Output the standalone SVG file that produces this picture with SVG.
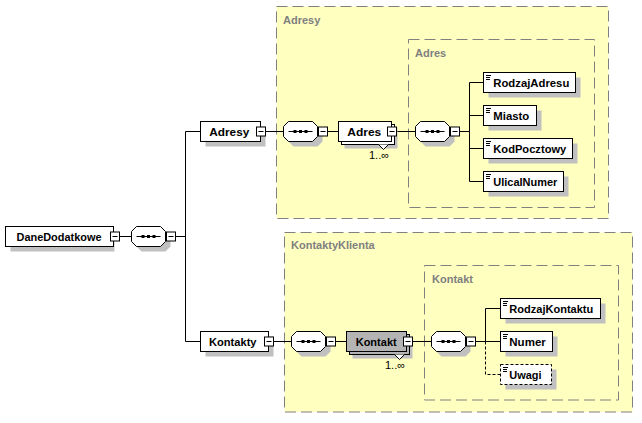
<svg xmlns="http://www.w3.org/2000/svg" width="642" height="423" viewBox="0 0 642 423">
<style>
.grp{fill:#ffffc0;stroke:#808080;stroke-width:1;stroke-dasharray:11,5}
.grpi{fill:none;stroke:#808080;stroke-width:1;stroke-dasharray:11,5}
.glbl{font-family:"Liberation Sans",Arial,sans-serif;font-weight:bold;font-size:11px;fill:#808080}
.sh{fill:#c0c0c0;stroke:none}
.box{fill:#fff;stroke:#000;stroke-width:1}
.gbox{fill:#b4b4b4;stroke:#000;stroke-width:1}
.obox{fill:#fff;stroke:#000;stroke-width:1;stroke-dasharray:3,2}
.t{font-family:"Liberation Sans",Arial,sans-serif;font-weight:bold;font-size:11px;fill:#000}
.occ{font-family:"Liberation Sans","DejaVu Sans",Arial,sans-serif;font-size:11px;fill:#000}
.ln{fill:none;stroke:#000;stroke-width:1}
.dln{fill:none;stroke:#000;stroke-width:1;stroke-dasharray:3,2}
.mn{fill:#fff;stroke:#000;stroke-width:1}
.ic{stroke:#000;stroke-width:1}
</style>
<defs>
<g id="minus"><rect class="mn" x="0" y="0" width="9" height="9"/><line class="ln" x1="2" y1="4.5" x2="7" y2="4.5"/></g>
<g id="seq">
<path class="sh" d="M10,5 H34 L39,10 V20 L34,25 H10 L5,20 V10 Z"/>
<path class="box" d="M5,0 H29 L34,5 V15 L29,20 H5 L0,15 V5 Z"/>
<line class="ln" x1="5" y1="10" x2="29" y2="10"/>
<rect x="10" y="8.5" width="3" height="3" fill="#000"/>
<rect x="15.5" y="8.5" width="3" height="3" fill="#000"/>
<rect x="21" y="8.5" width="3" height="3" fill="#000"/>
<use href="#minus" x="35" y="5.5"/>
</g>
<g id="icon"><line class="ic" x1="2" y1="2.5" x2="7" y2="2.5"/><line class="ic" x1="2" y1="4.5" x2="6" y2="4.5"/><line class="ic" x1="2" y1="6.5" x2="6" y2="6.5"/></g>
</defs>

<g id="group-Adresy">
<rect class="grp" x="276.5" y="6.5" width="332" height="212"/>
<text class="glbl" x="283" y="24">Adresy</text>
</g>
<g id="group-Adres">
<rect class="grpi" x="408.5" y="39.5" width="186" height="168"/>
<text class="glbl" x="415" y="57">Adres</text>
</g>
<g id="group-KontaktyKlienta">
<rect class="grp" x="284.5" y="232.5" width="348" height="179.5"/>
<text class="glbl" x="291" y="249">KontaktyKlienta</text>
</g>
<g id="group-Kontakt">
<rect class="grpi" x="424.5" y="265.5" width="194" height="134.5"/>
<text class="glbl" x="432" y="283">Kontakt</text>
</g>

<g id="connectors">
<line class="ln" x1="119.5" y1="236.5" x2="131.5" y2="236.5"/>
<line class="ln" x1="175.5" y1="236.5" x2="185.5" y2="236.5"/>
<polyline class="ln" points="200.5,131.5 185.5,131.5 185.5,341.5 200.5,341.5"/>
<line class="ln" x1="265.5" y1="131.5" x2="283.5" y2="131.5"/>
<line class="ln" x1="327.5" y1="131.5" x2="338.5" y2="131.5"/>
<line class="ln" x1="396.5" y1="131.5" x2="415.5" y2="131.5"/>
<line class="ln" x1="459.5" y1="131.5" x2="469.5" y2="131.5"/>
<polyline class="ln" points="483.5,82.5 469.5,82.5 469.5,181.5 483.5,181.5"/>
<line class="ln" x1="469.5" y1="115.5" x2="483.5" y2="115.5"/>
<line class="ln" x1="469.5" y1="148.5" x2="483.5" y2="148.5"/>
<line class="ln" x1="273.5" y1="341.5" x2="291.5" y2="341.5"/>
<line class="ln" x1="335.5" y1="341.5" x2="346.5" y2="341.5"/>
<line class="ln" x1="412.5" y1="341.5" x2="431.5" y2="341.5"/>
<line class="ln" x1="475.5" y1="341.5" x2="485.5" y2="341.5"/>
<polyline class="ln" points="500.5,308.5 485.5,308.5 485.5,341.5 500.5,341.5"/>
<polyline class="dln" points="485.5,341.5 485.5,374.5 500.5,374.5"/>
</g>

<g id="DaneDodatkowe">
<rect class="sh" x="10.5" y="231.5" width="104" height="20"/>
<rect class="box" x="5.5" y="226.5" width="108" height="20"/>
<text class="t" x="16.5" y="240.5" textLength="85" lengthAdjust="spacingAndGlyphs">DaneDodatkowe</text>
<use href="#minus" x="110.5" y="232"/>
</g>
<g id="seq1"><use href="#seq" x="131.5" y="226.5"/></g>

<g id="Adresy">
<rect class="sh" x="205.5" y="126.5" width="60" height="20"/>
<rect class="box" x="200.5" y="121.5" width="60" height="20"/>
<text class="t" x="209.3" y="135.5" textLength="40" lengthAdjust="spacingAndGlyphs">Adresy</text>
<use href="#minus" x="256.5" y="127"/>
</g>
<g id="seq2"><use href="#seq" x="283.5" y="121.5"/></g>

<g id="Adres">
<rect class="sh" x="344.5" y="127.5" width="53" height="21"/>
<rect class="box" x="341.5" y="124.5" width="53" height="20"/>
<rect class="box" x="338.5" y="121.5" width="53" height="20"/>
<text class="t" x="347.3" y="135.5" textLength="34" lengthAdjust="spacingAndGlyphs">Adres</text>
<use href="#minus" x="387.5" y="127"/>
<polyline class="box" points="378.5,144.5 383.5,149.5 388.5,144.5"/>
<text class="occ" x="369" y="158.5">1..∞</text>
</g>
<g id="seq3"><use href="#seq" x="415.5" y="121.5"/></g>

<g id="RodzajAdresu">
<rect class="sh" x="488.5" y="77.5" width="92" height="20"/>
<rect class="box" x="483.5" y="72.5" width="92" height="20"/>
<use href="#icon" x="484" y="73"/>
<text class="t" x="493.3" y="86.5" textLength="76" lengthAdjust="spacingAndGlyphs">RodzajAdresu</text>
</g>
<g id="Miasto">
<rect class="sh" x="488.5" y="110.5" width="53" height="20"/>
<rect class="box" x="483.5" y="105.5" width="53" height="20"/>
<use href="#icon" x="484" y="106"/>
<text class="t" x="493.3" y="119.5" textLength="36" lengthAdjust="spacingAndGlyphs">Miasto</text>
</g>
<g id="KodPocztowy">
<rect class="sh" x="488.5" y="143.5" width="89" height="20"/>
<rect class="box" x="483.5" y="138.5" width="89" height="20"/>
<use href="#icon" x="484" y="139"/>
<text class="t" x="493.3" y="152.5" textLength="73" lengthAdjust="spacingAndGlyphs">KodPocztowy</text>
</g>
<g id="UlicaINumer">
<rect class="sh" x="488.5" y="176.5" width="80" height="20"/>
<rect class="box" x="483.5" y="171.5" width="80" height="20"/>
<use href="#icon" x="484" y="172"/>
<text class="t" x="493.3" y="185.5" textLength="64" lengthAdjust="spacingAndGlyphs">UlicaINumer</text>
</g>

<g id="Kontakty">
<rect class="sh" x="205.5" y="336.5" width="68" height="20"/>
<rect class="box" x="200.5" y="331.5" width="68" height="20"/>
<text class="t" x="209" y="345.5" textLength="47.5" lengthAdjust="spacingAndGlyphs">Kontakty</text>
<use href="#minus" x="264.5" y="337"/>
</g>
<g id="seq4"><use href="#seq" x="291.5" y="331.5"/></g>

<g id="Kontakt">
<rect class="sh" x="352.5" y="337.5" width="60" height="21"/>
<rect class="gbox" x="349.5" y="334.5" width="60" height="20"/>
<rect class="gbox" x="346.5" y="331.5" width="60" height="20"/>
<text class="t" x="355.7" y="345.5" textLength="41" lengthAdjust="spacingAndGlyphs">Kontakt</text>
<use href="#minus" x="403.5" y="337"/>
<polyline class="box" points="394.5,354.5 399.5,359.5 404.5,354.5"/>
<text class="occ" x="385" y="369">1..∞</text>
</g>
<g id="seq5"><use href="#seq" x="431.5" y="331.5"/></g>

<g id="RodzajKontaktu">
<rect class="sh" x="505.5" y="303.5" width="100" height="20"/>
<rect class="box" x="500.5" y="298.5" width="100" height="20"/>
<use href="#icon" x="501" y="299"/>
<text class="t" x="509.3" y="312.5" textLength="84" lengthAdjust="spacingAndGlyphs">RodzajKontaktu</text>
</g>
<g id="Numer">
<rect class="sh" x="505.5" y="336.5" width="52" height="20"/>
<rect class="box" x="500.5" y="331.5" width="52" height="20"/>
<use href="#icon" x="501" y="332"/>
<text class="t" x="509.3" y="345.5" textLength="36.5" lengthAdjust="spacingAndGlyphs">Numer</text>
</g>
<g id="Uwagi">
<rect class="sh" x="505.5" y="369.5" width="51" height="20"/>
<rect class="obox" x="500.5" y="364.5" width="51" height="20"/>
<use href="#icon" x="501" y="365"/>
<text class="t" x="509.3" y="378.5" textLength="32.3" lengthAdjust="spacingAndGlyphs">Uwagi</text>
</g>
</svg>
